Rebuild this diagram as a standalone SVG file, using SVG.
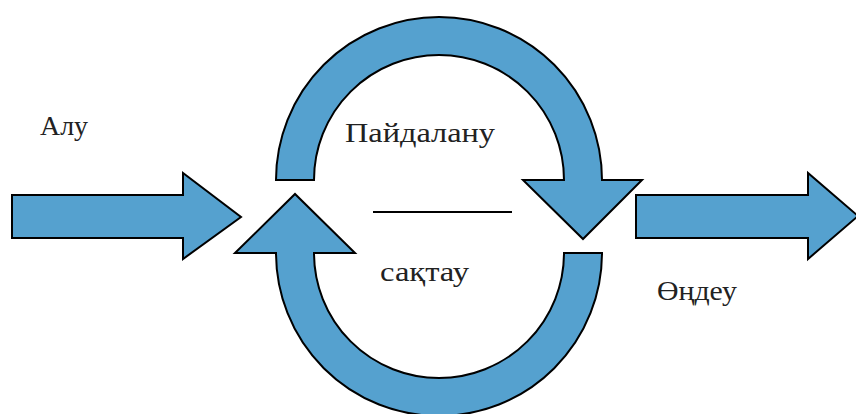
<svg xmlns="http://www.w3.org/2000/svg" width="856" height="414" viewBox="0 0 856 414">
<style>
.shape{fill:#55A1CF;stroke:#000;stroke-width:2;stroke-linejoin:miter}
.lbl{font-family:"Liberation Serif","Times New Roman",serif;fill:#222;font-size:27px}
</style>
<rect width="856" height="414" fill="#fff"/>
<g id="connectors">
<path id="arrow-in" class="shape" d="M12,195 L183,195 L183,173 L241,217 L183,259 L183,238 L12,238 Z"/>
<path id="arrow-out" class="shape" d="M636,195 L808,195 L808,173 L858,216 L808,259 L808,238 L636,238 Z"/>
<path id="arc-top" class="shape" d="M276,180 A163,163 0 0 1 602,180 L642,180 L583,239 L523,180 L564,180 A125,125 0 0 0 314,180 Z"/>
<path id="arc-bottom" class="shape" d="M235,253 L295,194 L355,253 L314,253 A125,125 0 0 0 564,253 L602,253 A163,163 0 0 1 276,253 Z"/>
<line x1="373" y1="212" x2="512" y2="212" stroke="#000" stroke-width="2"/>
</g>
<g id="node-alu"><text class="lbl" x="40" y="135" textLength="48" lengthAdjust="spacingAndGlyphs">Алу</text></g>
<g id="node-paidalanu"><text class="lbl" x="345" y="141.5" textLength="150" lengthAdjust="spacingAndGlyphs">Пайдалану</text></g>
<g id="node-saqtau"><text class="lbl" x="380" y="281" textLength="89" lengthAdjust="spacingAndGlyphs">сақтау</text></g>
<g id="node-ondeu"><text class="lbl" x="657" y="300" textLength="80" lengthAdjust="spacingAndGlyphs">Өңдеу</text></g>
</svg>
